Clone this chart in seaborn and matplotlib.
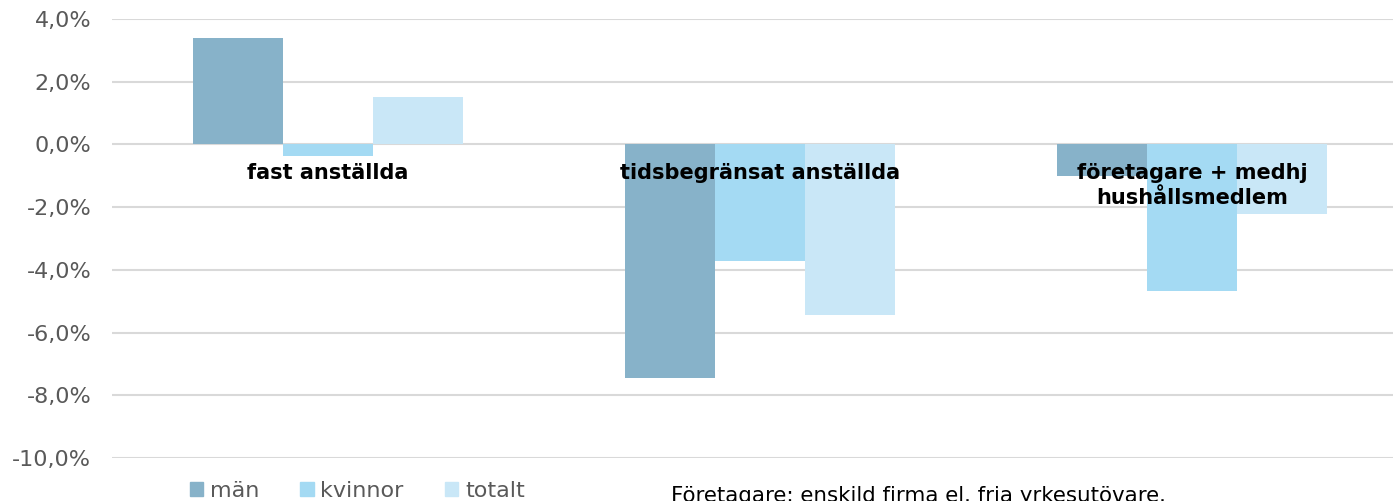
import pandas as pd
import numpy as np
import matplotlib.pyplot as plt
import seaborn as sns
from matplotlib.patches import Patch
from matplotlib.ticker import FuncFormatter

# data (percent change)
categories = ['fast anställda', 'tidsbegränsat anställda', 'företagare + medhj\nhushållsmedlem']
series = ['män', 'kvinnor', 'totalt']
man = [3.41, -7.45, -1.02]
kvinnor = [-0.38, -3.73, -4.68]
totalt = [1.50, -5.45, -2.23]
colors = ['#87B2C9', '#A4DAF3', '#C9E7F7']
note = 'Företagare: enskild firma el. fria yrkesutövare.'

df = pd.DataFrame({
    'kategori': categories * 3,
    'grupp': [s for s in series for _ in categories],
    'värde': man + kvinnor + totalt,
})

sns.set_style('white')
plt.rcParams['font.family'] = ['DejaVu Sans']

fig = plt.figure(figsize=(13.93, 5.01), dpi=100)
ax = fig.add_axes([112 / 1393, 43 / 501, 1296 / 1393, 439 / 501])

sns.barplot(data=df, x='kategori', y='värde', hue='grupp', order=categories,
            hue_order=series, palette=colors, width=0.625, saturation=1,
            errorbar=None, linewidth=0, legend=False, ax=ax)

ax.set_xlim(-0.5, 2.5)
ax.set_ylim(-10, 4)
ax.set_yticks(np.arange(-10, 4.1, 2))
ax.yaxis.set_major_formatter(FuncFormatter(lambda v, p: f'{v:.1f}%'.replace('.', ',')))
ax.grid(axis='y', color='#D9D9D9', linewidth=1.5, zorder=0)
ax.set_axisbelow(True)
for s in ax.spines.values():
    s.set_visible(False)
ax.tick_params(axis='y', length=0, labelsize=16, labelcolor='#595959', pad=15)
ax.set_xticks([])
ax.set_xlabel('')
ax.set_ylabel('')

# category labels sit just below the zero line
for i, c in enumerate(categories):
    ax.text(i, -0.6, c, ha='center', va='top', fontsize=15,
            fontweight='bold', color='black', linespacing=1.3)

handles = [Patch(color=c, label=s) for c, s in zip(colors, series)]
fig.legend(handles=handles, loc='center left', bbox_to_anchor=(170 / 1393, 10 / 501),
           ncol=3, frameon=False, fontsize=16, handlelength=0.6, handleheight=0.6,
           handletextpad=0.3, columnspacing=1.85, labelcolor='#595959')

fig.text(671 / 1393, 5 / 501, note, ha='left', va='center', fontsize=15.4, color='black')

fig.savefig('out.png', dpi=100)
plt.close()
